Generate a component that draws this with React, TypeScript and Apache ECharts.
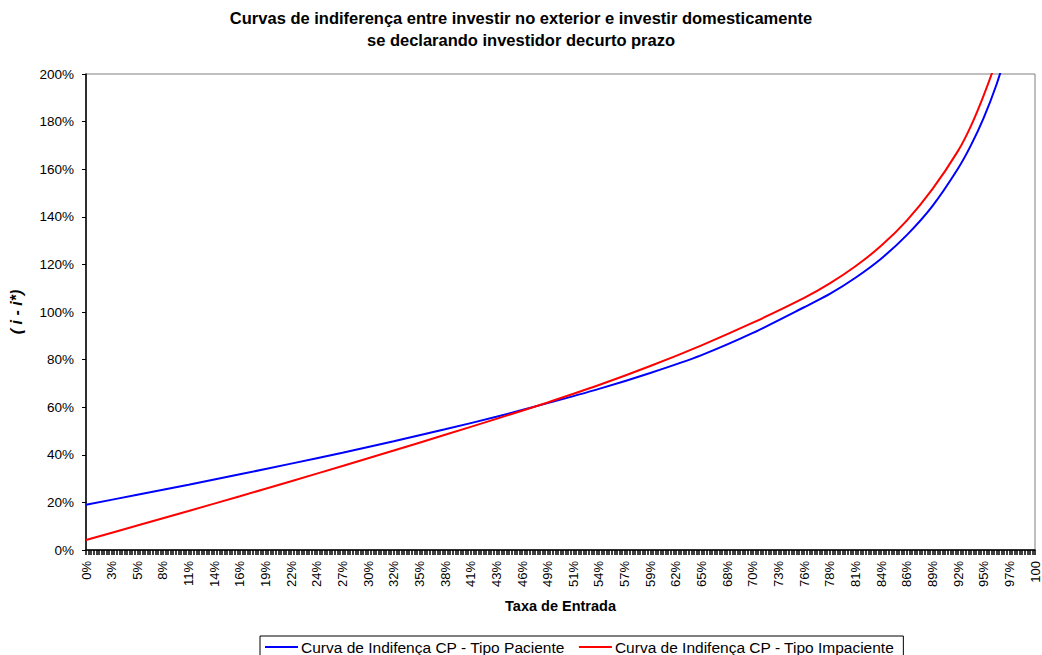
import React, { useEffect, useRef } from "react";
import * as echarts from "echarts";

// x index 0..370 (each step = 0.27% of "Taxa de Entrada")
const xTickLabels = [
  "0%", "3%", "5%", "8%", "11%", "14%", "16%", "19%", "22%", "24%",
  "27%", "30%", "32%", "35%", "38%", "41%", "43%", "46%", "49%", "51%",
  "54%", "57%", "59%", "62%", "65%", "68%", "70%", "73%", "76%", "78%",
  "81%", "84%", "86%", "89%", "92%", "95%", "97%", "100",
];

const pacienteX = [0, 20, 40, 60, 80, 100, 120, 140, 160, 180, 200, 220, 240, 260, 280, 290, 300, 310, 320, 330, 340, 345, 350, 355, 360];
const pacienteY = [19.0, 23.2, 27.4, 31.8, 36.3, 40.9, 45.7, 50.7, 56.0, 61.7, 67.7, 74.4, 81.9, 91.2, 102.0, 107.6, 114.4, 122.4, 132.3, 144.5, 160.3, 170.0, 181.6, 195.6, 212.8];

const impacienteX = [0, 20, 40, 60, 80, 100, 120, 140, 160, 180, 200, 220, 240, 260, 280, 290, 300, 310, 320, 330, 340, 345, 350, 355, 360];
const impacienteY = [4.2, 10.3, 16.4, 22.6, 28.9, 35.3, 41.8, 48.4, 55.1, 62.0, 69.3, 77.3, 86.0, 95.5, 105.9, 112.0, 119.2, 127.8, 138.4, 151.6, 167.7, 178.1, 191.0, 206.0, 225.0];

const seriesNames = [
  "Curva de Indifença CP - Tipo Paciente",
  "Curva de Indifença CP - Tipo Impaciente",
];

const titleText =
  "Curvas de indiferença entre investir no exterior e investir domesticamente\nse declarando investidor decurto prazo";

const zip = (xs: number[], ys: number[]) => xs.map((x, i) => [x, ys[i]]);

export default function App() {
  const ref = useRef<HTMLDivElement>(null);
  useEffect(() => {
    if (!ref.current) return;
    const chart = echarts.init(ref.current, null, { renderer: "svg" });
    const font = "Liberation Sans, Arial, sans-serif";
    chart.setOption({
      animation: false,
      backgroundColor: "#ffffff",
      textStyle: { fontFamily: font },
      title: {
        text: titleText,
        left: "center",
        top: 2,
        textStyle: {
          fontFamily: font,
          fontSize: 16.5,
          fontWeight: "bold",
          lineHeight: 22,
          color: "#000",
        },
      },
      grid: {
        left: 84,
        right: 7,
        top: 74,
        bottom: 105,
        show: true,
        borderColor: "#808080",
        borderWidth: 1,
      },
      legend: {
        top: 636,
        left: 260,
        data: seriesNames,
        icon: "rect",
        itemWidth: 33,
        itemHeight: 2,
        itemGap: 14,
        borderColor: "#000",
        borderWidth: 1,
        padding: [3, 9, 6, 5],
        textStyle: { fontFamily: font, fontSize: 15.5, color: "#000", padding: [0, 0, 0, -2] },
      },
      xAxis: {
        type: "value",
        min: 0,
        max: 370,
        interval: 10,
        name: "Taxa de Entrada",
        nameLocation: "middle",
        nameGap: 48,
        nameTextStyle: { fontFamily: font, fontSize: 14.5, fontWeight: "bold", color: "#000" },
        axisLine: { show: true, lineStyle: { color: "#000", width: 1.5 } },
        axisTick: { show: true, length: 5, lineStyle: { color: "#000", width: 1.5 } },
        minorTick: { show: true, splitNumber: 10, length: 5, lineStyle: { color: "#000", width: 1.5 } },
        splitLine: { show: false },
        minorSplitLine: { show: false },
        axisLabel: {
          rotate: 90,
          margin: 11,
          fontSize: 13,
          color: "#000",
          fontFamily: font,
          formatter: (v: number) => xTickLabels[Math.round(v / 10)] ?? "",
        },
      },
      yAxis: {
        type: "value",
        min: 0,
        max: 200,
        interval: 20,
        name: "( i - i*)",
        nameLocation: "middle",
        nameRotate: 90,
        nameGap: 62,
        nameTextStyle: {
          fontFamily: font,
          fontSize: 16,
          fontWeight: "bold",
          fontStyle: "italic",
          color: "#000",
        },
        axisLine: { show: true, lineStyle: { color: "#000", width: 1.5 } },
        axisTick: { show: true, length: 4, lineStyle: { color: "#000" } },
        splitLine: { show: false },
        axisLabel: {
          fontSize: 13.5,
          color: "#000",
          fontFamily: font,
          margin: 12,
          formatter: (v: number) => v + "%",
        },
      },
      series: [
        {
          name: seriesNames[0],
          type: "line",
          data: zip(pacienteX, pacienteY),
          smooth: 0.25,
          symbol: "none",
          lineStyle: { color: "#0000ff", width: 2 },
          itemStyle: { color: "#0000ff" },
        },
        {
          name: seriesNames[1],
          type: "line",
          data: zip(impacienteX, impacienteY),
          smooth: 0.25,
          symbol: "none",
          lineStyle: { color: "#ff0000", width: 2 },
          itemStyle: { color: "#ff0000" },
        },
      ],
    });
    return () => chart.dispose();
  }, []);
  return (
    <div
      ref={ref}
      style={{ position: "fixed", left: 0, top: 0, width: 1042, height: 655 }}
    />
  );
}
